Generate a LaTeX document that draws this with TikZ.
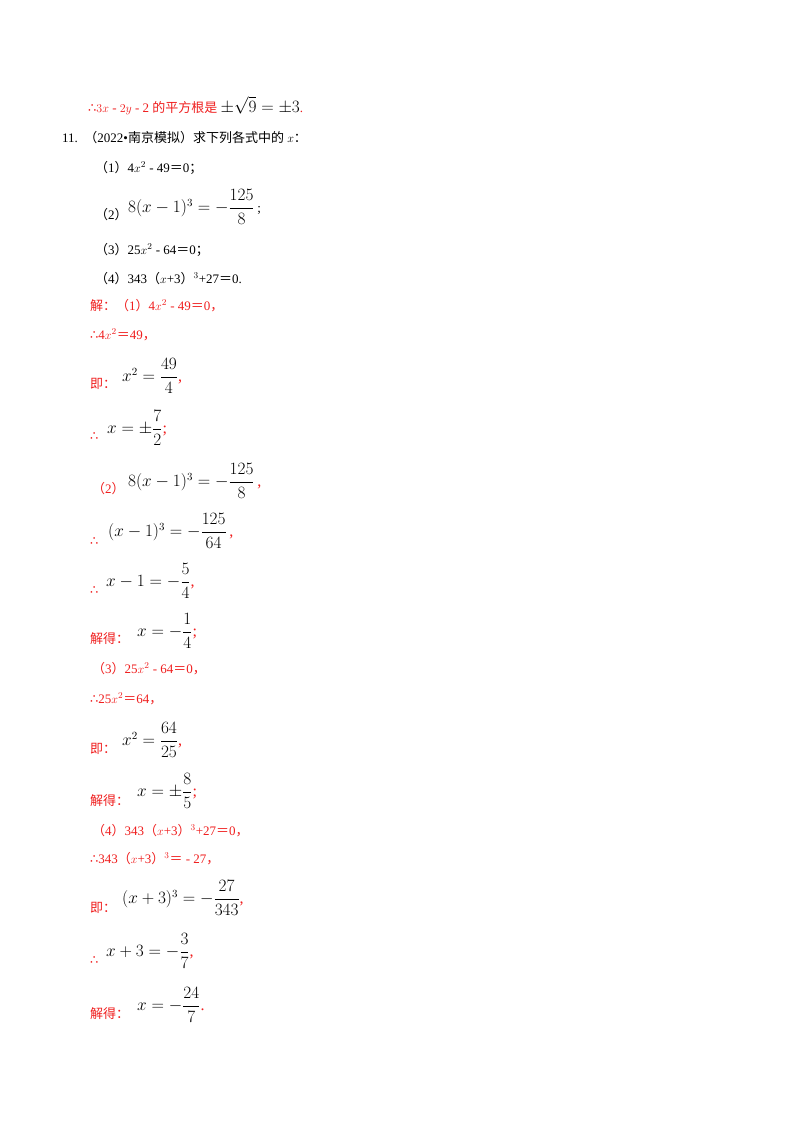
\documentclass[tikz,border=0pt]{standalone}
\usepackage{fontspec}
\usepackage{amsmath}
\setmainfont{Liberation Serif}
\newfontfamily\cjk{Noto Sans CJK SC}
\newfontfamily\dv{DejaVu Sans}
\newcommand{\tf}{{\dv ∴}}
\definecolor{rd}{RGB}{240,30,30}
\begin{document}
\begin{tikzpicture}[x=1pt,y=-1pt,
 t/.style={anchor=base west,inner sep=0pt,font=\fontsize{13}{15}\selectfont},
 r/.style={t,text=rd},
 m/.style={anchor=west,inner sep=0pt,font=\fontsize{16}{18}\selectfont}]
\useasboundingbox[fill=white] (0,0) rectangle (800,1132);
\node[r] (l1) at (88,112) {\tf$3x$ - $2y$ - 2 {\cjk 的平方根是} \textcolor{black}{\fontsize{16}{18}\selectfont$\pm\sqrt{9}=\pm3$}.};
\node[t] (l2) at (62,142) {11.\ \ {\cjk （}2022•{\cjk 南京模拟）求下列各式中的} $x${\cjk ：}};
\node[t] (p1) at (95,172) {{\cjk （}1{\cjk ）}4$x^2$ - 49{\cjk ＝}0{\cjk ；}};
\node[t] (p2) at (95,219) {{\cjk （}2{\cjk ）}};
\node[m] (p2m) at (128,207) {$8(x-1)^3=-\dfrac{125}{8}$\,\fontsize{13}{15}\selectfont;};
\node[t] (p3) at (95,254) {{\cjk （}3{\cjk ）}25$x^2$ - 64{\cjk ＝}0{\cjk ；}};
\node[t] (p4) at (95,283) {{\cjk （}4{\cjk ）}343{\cjk （}$x$+3{\cjk ）}$^3$+27{\cjk ＝}0.};
\node[r] (s1) at (90,310) {{\cjk 解：（}1{\cjk ）}4$x^2$ - 49{\cjk ＝}0{\cjk ，}};
\node[r] (s2) at (90,339) {\tf4$x^2${\cjk ＝}49{\cjk ，}};
\node[r] (s3) at (90,388) {{\cjk 即：}};
\node[m] (s3m) at (122,376) {$x^2=\dfrac{49}{4}$\textcolor{rd}{,}};
\node[r] (s4) at (90,440) {\tf};
\node[m] (s4m) at (107,428) {$x=\pm\dfrac{7}{2}$\textcolor{rd}{;}};
\node[r] (s5) at (92,493) {{\cjk （}2{\cjk ）}};
\node[m] (s5m) at (128,481) {$8(x-1)^3=-\dfrac{125}{8}$\,\textcolor{rd}{,}};
\node[r] (s6) at (90,545) {\tf};
\node[m] (s6m) at (108,531) {$(x-1)^3=-\dfrac{125}{64}$\,\textcolor{rd}{,}};
\node[r] (s7) at (90,594) {\tf};
\node[m] (s7m) at (106,581) {$x-1=-\dfrac{5}{4}$\textcolor{rd}{,}};
\node[r] (s8) at (90,643) {{\cjk 解得：}};
\node[m] (s8m) at (137,631) {$x=-\dfrac{1}{4}$\textcolor{rd}{;}};
\node[r] (s9) at (92,673) {{\cjk （}3{\cjk ）}25$x^2$ - 64{\cjk ＝}0{\cjk ，}};
\node[r] (s10) at (90,703) {\tf25$x^2${\cjk ＝}64{\cjk ，}};
\node[r] (s11) at (90,753) {{\cjk 即：}};
\node[m] (s11m) at (122,740) {$x^2=\dfrac{64}{25}$\textcolor{rd}{,}};
\node[r] (s12) at (90,805) {{\cjk 解得：}};
\node[m] (s12m) at (137,791) {$x=\pm\dfrac{8}{5}$\textcolor{rd}{;}};
\node[r] (s13) at (92,835) {{\cjk （}4{\cjk ）}343{\cjk （}$x$+3{\cjk ）}$^3$+27{\cjk ＝}0{\cjk ，}};
\node[r] (s14) at (90,863) {\tf343{\cjk （}$x$+3{\cjk ）}$^3${\cjk ＝} - 27{\cjk ，}};
\node[r] (s15) at (90,912) {{\cjk 即：}};
\node[m] (s15m) at (122,898) {$(x+3)^3=-\dfrac{27}{343}$\textcolor{rd}{,}};
\node[r] (s16) at (90,964) {\tf};
\node[m] (s16m) at (106,951) {$x+3=-\dfrac{3}{7}$\textcolor{rd}{,}};
\node[r] (s17) at (90,1018) {{\cjk 解得：}};
\node[m] (s17m) at (137,1005) {$x=-\dfrac{24}{7}$\textcolor{rd}{.}};
\end{tikzpicture}
\end{document}
